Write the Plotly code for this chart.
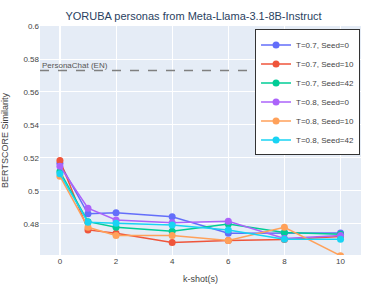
import plotly.graph_objects as go

k_shots = [0, 1, 2, 4, 6, 8, 10]
series_names = ["T=0.7, Seed=0", "T=0.7, Seed=10", "T=0.7, Seed=42",
                "T=0.8, Seed=0", "T=0.8, Seed=10", "T=0.8, Seed=42"]
t07_s0 = [0.5168, 0.4862, 0.4868, 0.4844, 0.4744, 0.4746, 0.4745]
t07_s10 = [0.5185, 0.4764, 0.4744, 0.4688, 0.4700, 0.4706, 0.4724]
t07_s42 = [0.5118, 0.4814, 0.4780, 0.4756, 0.4800, 0.4748, 0.4738]
t08_s0 = [0.5150, 0.4896, 0.4824, 0.4808, 0.4816, 0.4712, 0.4730]
t08_s10 = [0.5090, 0.4780, 0.4730, 0.4730, 0.4700, 0.4780, 0.4608]
t08_s42 = [0.5104, 0.4810, 0.4804, 0.4794, 0.4764, 0.4708, 0.4708]
all_series = [t07_s0, t07_s10, t07_s42, t08_s0, t08_s10, t08_s42]
colors = ["#636EFA", "#EF553B", "#00CC96", "#AB63FA", "#FFA15A", "#19D3F3"]
baseline_value = 0.573
baseline_label = "PersonaChat (EN)"
y_ticks = [0.48, 0.5, 0.52, 0.54, 0.56, 0.58, 0.6]
y_tick_labels = ["0.48", "0.5", "0.52", "0.54", "0.56", "0.58", "0.6"]
x_ticks = [0, 2, 4, 6, 8, 10]

FONT = "Liberation Sans, Arial, Helvetica, sans-serif"

fig = go.Figure()
for name, vals, c in zip(series_names, all_series, colors):
    fig.add_trace(go.Scatter(x=k_shots, y=vals, mode="lines+markers", name=name,
                             line=dict(color=c, width=1.5),
                             marker=dict(color=c, size=7)))

fig.add_hline(y=baseline_value, line=dict(color="gray", width=1.5, dash="dash"))
fig.add_annotation(x=0, xref="paper", xanchor="left", y=baseline_value, yref="y",
                   yanchor="bottom", text=baseline_label, showarrow=False,
                   font=dict(size=8, color="#555", family=FONT), xshift=0, yshift=-1)

fig.update_layout(
    width=387, height=291,
    margin=dict(l=40, r=26, t=26, b=36, autoexpand=False),
    template="plotly",
    font=dict(family=FONT, size=8, color="#444"),
    title=dict(text="YORUBA personas from Meta-Llama-3.1-8B-Instruct",
               x=0.5, xanchor="center", y=0.945, yanchor="middle",
               font=dict(size=11, color="#2a3f5f", family=FONT)),
    xaxis=dict(title=dict(text="k-shot(s)", font=dict(size=9), standoff=10),
               range=[-0.71, 10.73], tickvals=x_ticks, tickfont=dict(size=8)),
    yaxis=dict(title=dict(text="BERTSCORE Similarity", font=dict(size=9)),
               automargin=False,
               range=[0.4612, 0.6], tickvals=y_ticks, ticktext=y_tick_labels,
               tickfont=dict(size=8)),
    legend=dict(x=0.997, y=0.985, xanchor="right", yanchor="top",
                bgcolor="white", bordercolor="#333", borderwidth=1,
                font=dict(size=8), itemwidth=30, tracegroupgap=0),
)

fig.write_html("out.html", config={"displayModeBar": False},
               post_script="document.body.style.margin='0';")
